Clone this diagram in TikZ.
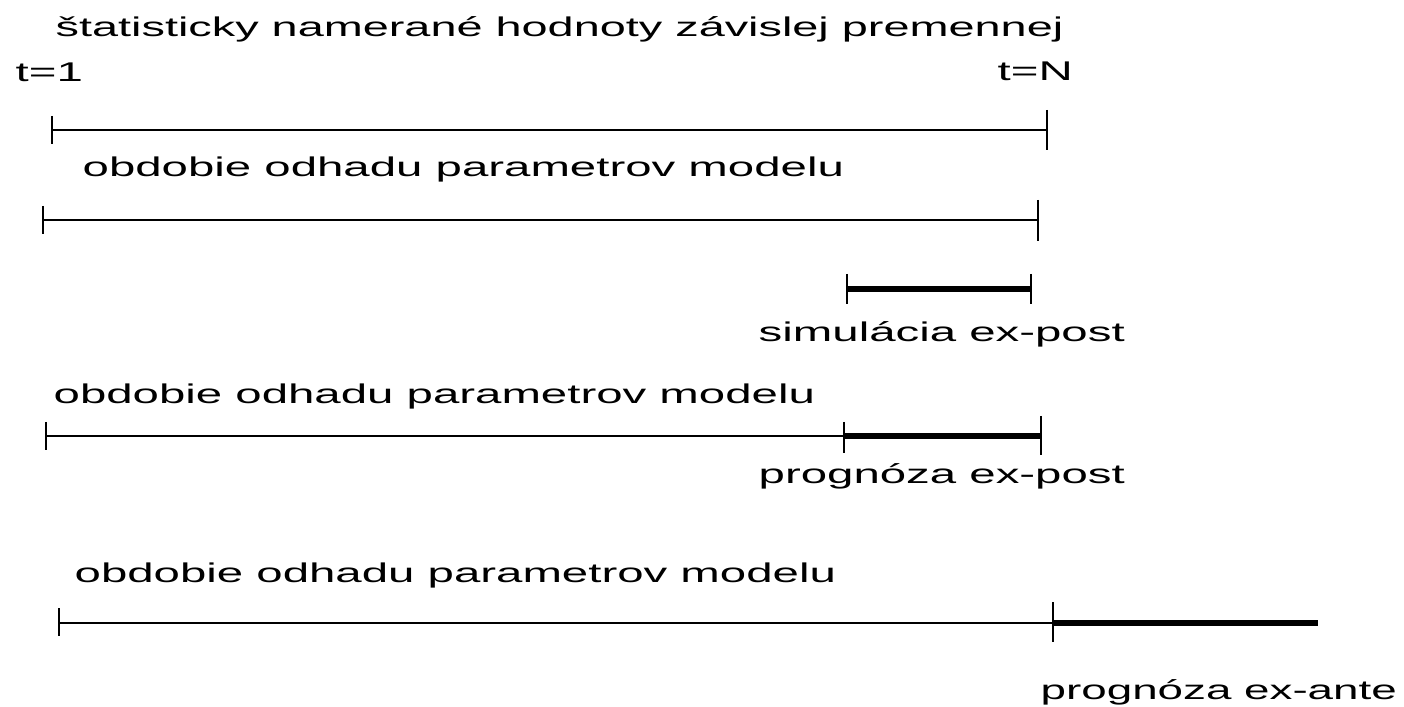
\documentclass[tikz,border=0pt]{standalone}
\usepackage{fontspec}
\setmainfont{Liberation Sans}
\usepackage{tikz}
\usetikzlibrary{positioning}
\tikzset{
  lbl/.style  ={inner sep=0pt,anchor=base west,font=\fontsize{7.7}{9}\selectfont},
  per/.style  ={line width=0.6pt},
  prog/.style ={line width=1.7pt},
  tck/.style  ={line width=0.8pt},
}
\newcommand{\wide}[2][1.75]{\scalebox{#1}[1]{#2}}

\begin{document}
\begin{tikzpicture}[x=0.01cm,y=-0.01cm]
\useasboundingbox (0,0) rectangle (1404,707);
\node[lbl] (title) at (55,37) {\wide[1.73]{štatisticky namerané hodnoty závislej premennej}};
\node[lbl] (t1) at (15,82) {\wide{t=1}};
\node[lbl] (tN) at (997,81) {\wide{t=N}};
\node[lbl] (od1) at (82,177) {\wide{obdobie odhadu parametrov modelu}};
\node[lbl] (sim) at (758,342) {\wide{simulácia ex-post}};
\node[lbl] (od2) at (53,403) {\wide{obdobie odhadu parametrov modelu}};
\node[lbl] (pgp) at (758,483) {\wide{prognóza ex-post}};
\node[lbl] (od3) at (74,582) {\wide{obdobie odhadu parametrov modelu}};
\node[lbl] (pga) at (1040,699) {\wide[1.69]{prognóza ex-ante}};
\coordinate (a1) at (52,130);  \coordinate (b1) at (1047,130);
\coordinate (a2) at (43,220);  \coordinate (b2) at (1038,220);
\coordinate (a3) at (847,289); \coordinate (b3) at (1031,289);
\coordinate (a4) at (46,436);  \coordinate (m4) at (844,436); \coordinate (b4) at (1041,436);
\coordinate (a5) at (59,623);  \coordinate (m5) at (1053,623); \coordinate (b5) at (1318,623);
\draw[per] (a1)--(b1); \draw[per] (a2)--(b2);
\draw[prog] (a3)--(b3);
\draw[per] (a4)--(m4); \draw[prog] (m4)--(b4);
\draw[per] (a5)--(m5); \draw[prog] (m5)--(b5);
\draw[tck] (a1) ++(0,-14) -- ++(0,28); \draw[tck] (b1) ++(0,-20) -- ++(0,40);
\draw[tck] (a2) ++(0,-14) -- ++(0,28); \draw[tck] (b2) ++(0,-20) -- ++(0,41);
\draw[tck] (a3) ++(0,-15) -- ++(0,30); \draw[tck] (b3) ++(0,-15) -- ++(0,30);
\draw[tck] (a4) ++(0,-14) -- ++(0,28); \draw[tck] (m4) ++(0,-14) -- ++(0,31);
\draw[tck] (b4) ++(0,-20) -- ++(0,39);
\draw[tck] (a5) ++(0,-15) -- ++(0,28); \draw[tck] (m5) ++(0,-21) -- ++(0,40);
\end{tikzpicture}
\end{document}
